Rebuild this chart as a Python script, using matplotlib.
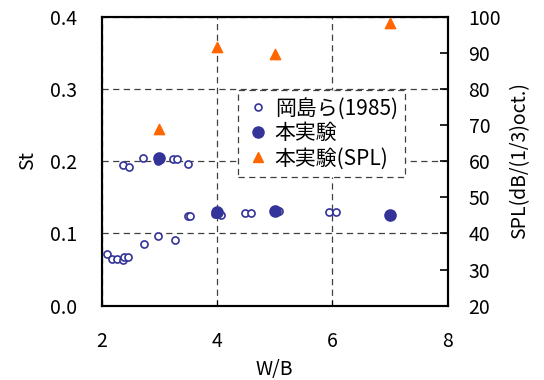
import matplotlib
matplotlib.use("Agg")
import matplotlib.pyplot as plt
from matplotlib.lines import Line2D

plt.rcParams['font.family'] = ['Noto Sans CJK JP', 'DejaVu Sans']

# Okajima et al. (1985): W/B vs St
oka_wb = [2.09, 2.18, 2.27, 2.37, 2.38, 2.46, 2.37, 2.48, 2.72, 2.73, 2.97, 2.97,
          3.23, 3.31, 3.27, 3.49, 3.49, 3.53, 3.97, 4.07, 4.49, 4.59, 5.05, 5.08,
          5.95, 6.06]
oka_st = [0.0715, 0.065, 0.065, 0.063, 0.068, 0.068, 0.195, 0.192, 0.205, 0.086,
          0.096, 0.200, 0.2025, 0.2025, 0.091, 0.1965, 0.124, 0.124, 0.127, 0.126,
          0.128, 0.128, 0.1315, 0.131, 0.130, 0.130]

# This experiment: St
exp_wb = [3.0, 4.0, 5.0, 7.0]
exp_st = [0.205, 0.130, 0.1305, 0.1255]

# This experiment: SPL
spl_wb = [3.0, 4.0, 5.0, 7.0]
spl_db = [68.8, 91.5, 89.8, 98.3]

x_ticks = [2, 4, 6, 8]
st_ticks = ['0.0', '0.1', '0.2', '0.3', '0.4']
spl_ticks = [20, 30, 40, 50, 60, 70, 80, 90, 100]
labels = ['岡島ら(1985)', '本実験', '本実験(SPL)']

navy = '#33339a'
orange = '#ff6600'
FS = 14

W, H = 544, 380
fig = plt.figure(figsize=(W / 100, H / 100), dpi=100)
ax = fig.add_axes([101.7 / W, 1 - 305.7 / H, 346 / W, 289 / H])
ax2 = ax.twinx()

ax.set_xlim(2, 8)
ax.set_ylim(0.0, 0.4)
ax2.set_ylim(20, 100)
ax.set_xticks(x_ticks)
ax.set_yticks([float(t) for t in st_ticks])
ax.set_yticklabels(st_ticks)
ax2.set_yticks(spl_ticks)

ax.grid(True, color='#404040', linestyle=(0, (5, 3.5)), linewidth=0.9)
ax.set_axisbelow(True)

ax.tick_params(axis='y', direction='in', length=0, labelsize=FS, pad=18)
ax.tick_params(axis='x', direction='in', length=4, labelsize=FS, pad=18)
ax2.tick_params(axis='y', direction='in', length=5.5, width=1.2,
                labelsize=FS, pad=15)

for a in (ax, ax2):
    for s in a.spines.values():
        s.set_linewidth(1.5)
        s.set_color('black')

ax.scatter(oka_wb, oka_st, s=26, facecolors='white', edgecolors=navy,
           linewidths=1.2, zorder=3)
ax.scatter(exp_wb, exp_st, s=65, color=navy, zorder=4)
ax2.scatter(spl_wb, spl_db, s=55, marker='^', color=orange, zorder=4)

fig.text(274.7 / W, 1 - 369 / H, 'W/B', fontsize=FS, ha='center', va='center')
fig.text(27.7 / W, 1 - 161 / H, 'St', fontsize=FS, ha='center', va='center',
         rotation=90)
fig.text(520 / W, 1 - 161 / H, 'SPL(dB/(1/3)oct.)', fontsize=FS,
         ha='center', va='center', rotation=90)

handles = [
    Line2D([], [], linestyle='none', marker='o', markersize=5,
           markerfacecolor='white', markeredgecolor=navy, markeredgewidth=1.2),
    Line2D([], [], linestyle='none', marker='o', markersize=8, color=navy),
    Line2D([], [], linestyle='none', marker='^', markersize=7.5, color=orange),
]
leg = ax2.legend(handles, labels, loc='upper left',
                 bbox_to_anchor=(238.3 / W, 1 - 90 / H),
                 bbox_transform=fig.transFigure, borderaxespad=0,
                 frameon=True, fancybox=False, fontsize=15,
                 handletextpad=0.2, borderpad=0.35, labelspacing=0.15,
                 handlelength=1.2)
fr = leg.get_frame()
fr.set_edgecolor('#404040')
fr.set_linestyle((0, (5, 3.5)))
fr.set_linewidth(0.9)
fr.set_facecolor('white')
fr.set_alpha(1.0)

fig.savefig('out.png', dpi=100)
